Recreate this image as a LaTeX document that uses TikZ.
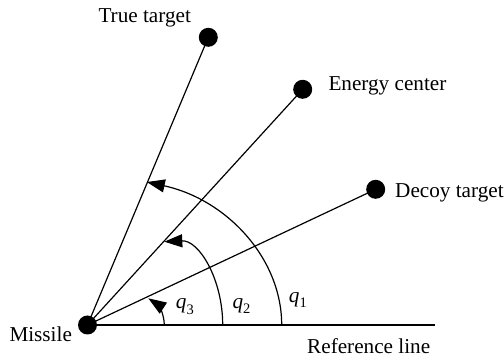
\documentclass[tikz,border=0pt]{standalone}
\usepackage{fontspec}
\setmainfont{Liberation Serif}
\usetikzlibrary{arrows.meta}
\begin{document}
\begin{tikzpicture}[x=1pt,y=1pt,
  dot/.style={circle,fill=black,inner sep=0pt,minimum size=19pt},
  lbl/.style={anchor=base west,inner sep=0pt,font=\fontsize{21.2}{24}\selectfont},
  ln/.style={line width=1.2pt},
  angarrow/.style={line width=1.2pt,-{Triangle[length=18pt,width=13pt]}}]
\useasboundingbox (0,0) rectangle (504,359);
% target dots
\node[dot] (M) at (87.5,34) {};
\node[dot] (T) at (208.3,321.7) {};
\node[dot] (E) at (302.7,269.7) {};
\node[dot] (D) at (375.7,169.7) {};
\coordinate (R) at (435,34);
% lines of sight
\draw[ln] (M.center) -- (R);
\draw[ln] (M.center) -- (T.center);
\draw[ln] (M.center) -- (E.center);
\draw[ln] (M.center) -- (D.center);
% angle arcs
\coordinate (a1) at (281.7,34);
\coordinate (a2) at (222.7,34);
\coordinate (a3) at (164.3,34);
\draw[angarrow] (a1) arc[start angle=0,end angle=75,x radius=182,y radius=148];
\draw[angarrow] (a2) .. controls (222.7,79.8) and (199,119) .. (164.3,117.3);
\draw[angarrow] (a3) .. controls (164.3,46) and (157,55) .. (148.3,60.7);
% labels
\node[lbl] (lT) at (98.3,336.3) {True target};
\node[lbl] (lE) at (328.3,268.3) {Energy center};
\node[lbl] (lD) at (395,161.7) {Decoy target};
\node[lbl] (lM) at (9.3,17.3) {Missile};
\node[lbl] (lR) at (307,5) {Reference line};
\node[lbl] (q1) at (288.7,56) {\textit{q}\raisebox{-5pt}{\fontsize{14.5}{15}\selectfont 1}};
\node[lbl] (q2) at (232.3,50.5) {\textit{q}\raisebox{-5pt}{\fontsize{14.5}{15}\selectfont 2}};
\node[lbl] (q3) at (175.7,50) {\textit{q}\raisebox{-6pt}{\fontsize{14.5}{15}\selectfont 3}};
\end{tikzpicture}
\end{document}
